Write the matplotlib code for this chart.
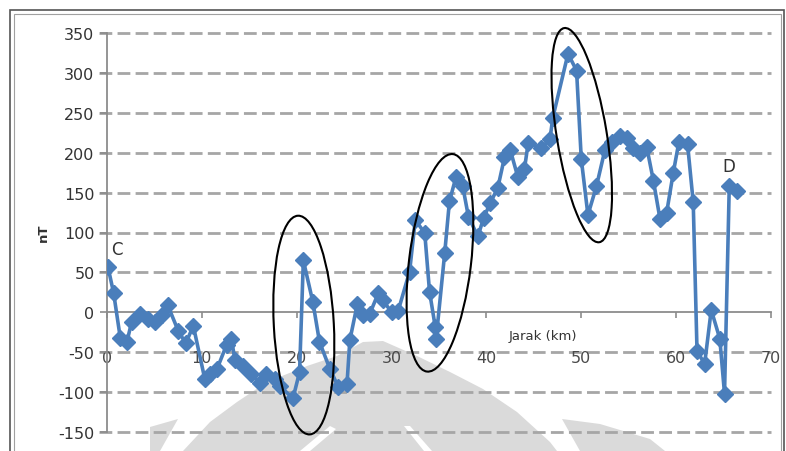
import matplotlib
matplotlib.use("Agg")
import matplotlib.pyplot as plt
from matplotlib.patches import Ellipse, Polygon, Rectangle
from matplotlib.transforms import ScaledTranslation
from matplotlib.ticker import FuncFormatter

# profile C-D, distance (km) vs magnetic anomaly (nT)
dist = [0.1, 0.7, 1.4, 2.1, 2.6, 3.5, 4.3, 5.1, 5.8, 6.4,
        7.5, 8.3, 9.1, 10.3, 10.9, 11.6, 12.6, 13.1, 13.5, 14.3,
        15.2, 16.1, 16.8, 17.7, 18.2, 19.6, 20.3, 20.7, 21.7, 22.4,
        23.5, 24.4, 25.3, 25.6, 26.4, 27.0, 27.7, 28.6, 29.1, 30.0,
        30.7, 31.9, 32.5, 33.5, 34.0, 34.6, 34.7, 35.6, 36.1, 36.8,
        37.5, 38.1, 39.1, 39.7, 40.4, 41.2, 41.9, 42.5, 43.3, 44.0,
        44.4, 45.8, 46.7, 47.0, 48.6, 49.5, 50.0, 50.7, 51.6, 52.5,
        53.2, 54.1, 54.8, 55.4, 56.2, 56.9, 57.6, 58.3, 59.0, 59.7,
        60.3, 61.2, 61.8, 62.2, 63.0, 63.7, 64.6, 65.1, 65.6, 66.4]
nt = [57, 24, -32, -37, -12, -2, -8, -12, -4, 9,
      -23, -39, -17, -83, -77, -71, -41, -33, -60, -67,
      -77, -88, -77, -83, -92, -108, -75, 65, 13, -37,
      -71, -94, -90, -35, 11, -4, -2, 24, 15, 0,
      2, 51, 116, 99, 26, -18, -33, 74, 139, 170,
      158, 120, 95, 118, 137, 156, 194, 204, 170, 179,
      212, 206, 217, 244, 324, 303, 192, 122, 158, 204,
      214, 221, 219, 206, 200, 207, 165, 117, 125, 175,
      214, 211, 138, -48, -65, 3, -33, -102, 158, 152]

x_ticks = [0, 10, 20, 30, 40, 50, 60, 70]
y_ticks = [-150, -100, -50, 0, 50, 100, 150, 200, 250, 300, 350]

# anomaly zones marked by hand: centre (km, nT), size in pixels, tilt
zones_center = [(20.75, -16), (35.1, 62), (50.05, 222)]
zones_size = [(219, 60), (219, 62), (217, 50)]
zones_angle = [93.1, 83.2, 99.3]

W, H = 786, 452
DPI = 100
BLUE = "#4a7ebb"
GRID = "#a6a6a6"
TXT = "#333333"


def px(x, y):
    return (x / W, 1 - y / H)


fig = plt.figure(figsize=(W / DPI, H / DPI), dpi=DPI)
fig.patch.set_facecolor("white")

# faint watermark behind the chart
wm = "#dadada"
dome = [(183, 452), (210, 423), (237, 403), (267, 383), (307, 367), (337, 357),
        (363, 343), (383, 342), (417, 357), (450, 373), (483, 390), (517, 413),
        (550, 443), (557, 452)]
left_piece = [(150, 452), (150, 428), (178, 420), (160, 452)]
right_piece = [(562, 420), (600, 425), (650, 440), (665, 452), (580, 452)]
for shape in (dome, left_piece, right_piece):
    fig.add_artist(Polygon([px(*p) for p in shape], closed=True, facecolor=wm,
                           edgecolor="none", transform=fig.transFigure, zorder=-3))
for stripe in ([(330, 427), (336, 430), (310, 452), (300, 452)],
               [(404, 427), (410, 427), (432, 452), (424, 452)]):
    fig.add_artist(Polygon([px(*p) for p in stripe], closed=True, facecolor="white",
                           edgecolor="none", transform=fig.transFigure, zorder=-2))

# outer frame (double line)
fig.add_artist(Rectangle(px(10, 480), (784 - 10) / W, (480 - 11) / H, fill=False,
                         edgecolor="#555555", lw=1.2, transform=fig.transFigure, zorder=-1))
fig.add_artist(Rectangle(px(13.5, 480), (780.5 - 13.5) / W, (480 - 14.5) / H, fill=False,
                         edgecolor="#a0a0a0", lw=0.8, transform=fig.transFigure, zorder=-1))

ax = fig.add_axes([107 / W, 1 - 433 / H, 664 / W, 399 / H])
ax.patch.set_alpha(0)
ax.set_xlim(0, 70)
ax.set_ylim(-150, 350)

for s in ("top", "right"):
    ax.spines[s].set_visible(False)
ax.spines["left"].set_color("#8c8c8c")
ax.spines["left"].set_linewidth(1.3)
ax.spines["bottom"].set_position(("data", 0))
ax.spines["bottom"].set_color("#8c8c8c")
ax.spines["bottom"].set_linewidth(1.3)

ax.set_yticks(y_ticks)
ax.set_xticks(x_ticks)
ax.yaxis.set_major_formatter(FuncFormatter(lambda v, p: "%d" % v))
ax.tick_params(axis="y", length=5, width=1.2, color="#8c8c8c", labelsize=11.5,
               labelcolor=TXT, pad=4)
ax.tick_params(axis="x", length=4, width=1.2, color="#8c8c8c", labelsize=11.5,
               labelcolor="#4a4a4a", pad=23, direction="out")

for yv in y_ticks:
    if yv == 0:
        continue
    ax.plot([-0.8, 70], [yv, yv], color=GRID, lw=2, linestyle=(0, (4.6, 1.9)),
            clip_on=False, zorder=1)

ax.plot(dist, nt, color=BLUE, lw=2.6, marker="D", markersize=8,
        markeredgecolor=BLUE, zorder=3)

ax.annotate("C", (dist[0], nt[0]), xytext=(2, 6), textcoords="offset points",
            fontsize=12, color=TXT, ha="left", va="bottom")
ax.annotate("D", (dist[-2], nt[-2]), xytext=(0, 8), textcoords="offset points",
            fontsize=12, color=TXT, ha="center", va="bottom")

ax.text(45.9, -29, "Jarak (km)", fontsize=9.5, color=TXT, ha="center", va="center")
fig.text(43 / W, 1 - 233 / H, "nT", fontsize=9.5, color=TXT, rotation=90,
         ha="center", va="center", fontweight="bold")

for (cx, cy), (w, h), a in zip(zones_center, zones_size, zones_angle):
    tr = fig.dpi_scale_trans + ScaledTranslation(cx, cy, ax.transData)
    ax.add_artist(Ellipse((0, 0), w / DPI, h / DPI, angle=a, fill=False,
                          edgecolor="black", lw=1.5, transform=tr, zorder=4,
                          clip_on=False))

fig.savefig("out.png", dpi=DPI)
